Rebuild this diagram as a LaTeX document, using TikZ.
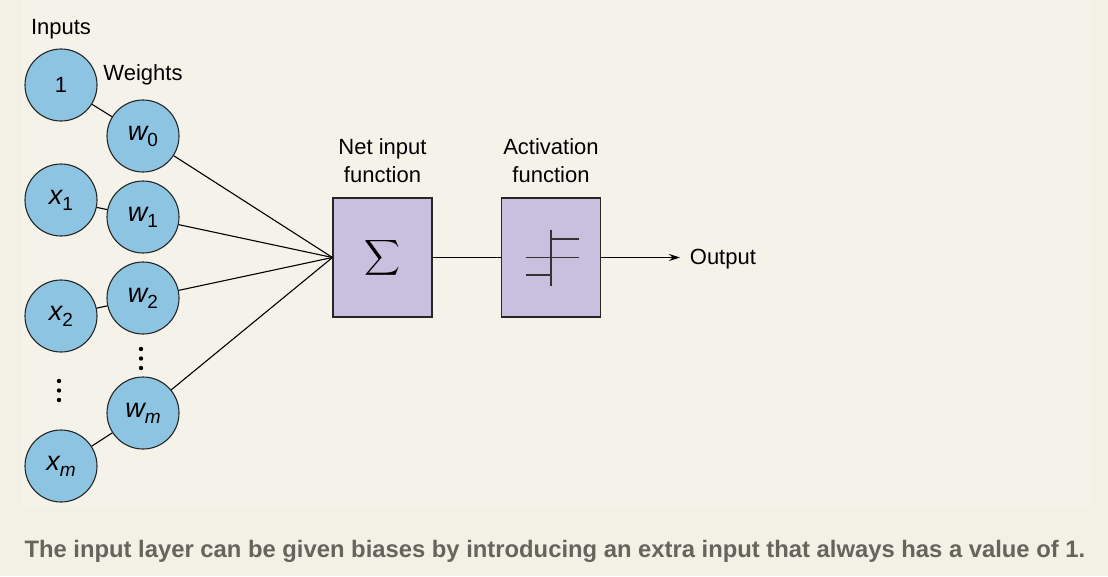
\documentclass[tikz,border=0pt]{standalone}
\usepackage{exscale}
\usepackage{fontspec}
\setmainfont{Liberation Sans}
\newfontfamily\capfont{Liberation Sans}
\usetikzlibrary{arrows.meta,positioning}
\definecolor{paper}{HTML}{F3F1E5}
\definecolor{panel}{HTML}{F5F3E9}
\definecolor{neuroncol}{HTML}{8DC4E1}
\definecolor{unitcol}{HTML}{C9BFDE}
\definecolor{capgray}{HTML}{65655E}
\newcommand{\wlbl}[2]{{\fontsize{27}{27}\selectfont\itshape #1}\raisebox{-6pt}{\fontsize{19}{19}\selectfont #2}}

\begin{document}
\begin{tikzpicture}[x=1pt,y=-1pt,->,>={Stealth[length=11pt,width=7pt]},line width=1.1pt,node distance=168.5pt,
	every node/.style={font=\fontsize{22}{28}\selectfont},
	neuron/.style={circle,draw=black!85,fill=neuroncol,minimum size=72pt,inner sep=0pt},
	unit/.style={rectangle,draw=black!85,fill=unitcol,minimum width=99pt,minimum height=119pt}]
	
	\useasboundingbox (0,0) rectangle (1108,576);
	\fill[paper] (0,0) rectangle (1108,576);
	\fill[panel] (22,0) rectangle (1092,507);
	
	\node (inputs) at (61,29) {Inputs};
	\node (weights) at (143,75) {Weights};
	
	\node[neuron] (I0) at (61,85) {1};
	\node[neuron] (W0) at (143,136) {\wlbl{w}{0}};
	\node[neuron] (I1) at (61,200) {\wlbl{x}{1}};
	\node[neuron] (W1) at (143,217) {\wlbl{w}{1}};
	\node[neuron] (I2) at (61,316) {\wlbl{x}{2}};
	\node[neuron] (W2) at (143,298) {\wlbl{w}{2}};
	\node[neuron] (Wm) at (143,413) {\wlbl{w}{\itshape m}};
	\node[neuron] (Im) at (61,466) {\wlbl{x}{\itshape m}};
	
	% vertical ellipses
	\coordinate (DW) at (141,358.5);
	\coordinate (DI) at (59,390.5);
	\foreach \d in {-9.5,0,9.5} {
		\fill (DW) ++(0,\d) circle (2.2pt);
		\fill (DI) ++(0,\d) circle (2.2pt);
	}
	
	\node[unit] (net) at (382.5,257.5) {\fontsize{29}{30}\selectfont$\displaystyle\sum$};
	\node[unit] (act) [right of=net] {};
	\node[align=center,above=11pt of net] (netlbl) {Net input\\function};
	\node[align=center,above=11pt of act] (actlbl) {Activation\\function};
	
	\coordinate (out) at (680,257.5);
	\node[right=6pt of out,yshift=-2pt] (outlbl) {Output};
	
	\path[-]
	(I0) edge (W0)
	(I1) edge (W1)
	(I2) edge (W2)
	(Im) edge (Wm)
	(W0) edge (net.west)
	(W1) edge (net.west)
	(W2) edge (net.west)
	(Wm) edge (net.west)
	(net) edge (act);
	\draw (act) -- (out);
	
	% step function
	\draw[-,shift={(act.center)},line width=1.4pt,black!80]
	(0,-28) -- (0,28)
	(0,-18.5) -- (28,-18.5)
	(-25,0) -- (28,0)
	(-25,17.5) -- (0,17.5);
	
	\node[anchor=base west,inner sep=0pt,text=capgray,font=\capfont\bfseries\fontsize{23.8}{28}\selectfont] (caption) at (24,557)
	{The input layer can be given biases by introducing an extra input that always has a value of 1.};
\end{tikzpicture}
\end{document}
